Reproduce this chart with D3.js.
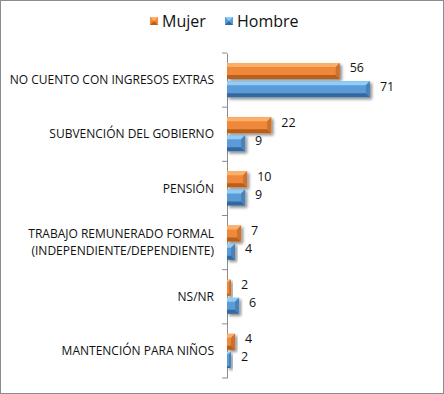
<!DOCTYPE html>
<html>
<head>
<meta charset="utf-8">
<script src="https://cdn.jsdelivr.net/npm/d3@7"></script>
<style>
  body { margin: 0; background: #fff; }
  svg { display: block; font-family: "Open Sans", "DejaVu Sans", sans-serif; }
</style>
</head>
<body>
<script>
"use strict";
const categories = [
    ["NO CUENTO CON INGRESOS EXTRAS"],
    ["SUBVENCIÓN DEL GOBIERNO"],
    ["PENSIÓN"],
    ["TRABAJO REMUNERADO FORMAL", "(INDEPENDIENTE/DEPENDIENTE)"],
    ["NS/NR"],
    ["MANTENCIÓN PARA NIÑOS"]
];
const seriesNames = ["Mujer", "Hombre"];
const mujer = [56, 22, 10, 7, 2, 4];
const hombre = [71, 9, 9, 4, 6, 2];

const colors = {
    Mujer: { base: "#F0883A", light: "#FBB06A", dark: "#B85F1E" },
    Hombre: { base: "#5A9BD8", light: "#92CDF5", dark: "#35689E" }
};

const measurements = { width: 444, height: 394, left: 227, top: 53, bottom: 378 };

const svg = d3.select("body").append("svg")
    .attr("width", measurements.width)
    .attr("height", measurements.height);

// frame
svg.append("rect")
    .attr("x", 0.5).attr("y", 0.5)
    .attr("width", measurements.width - 1).attr("height", measurements.height - 1)
    .attr("fill", "#fff").attr("stroke", "#8c8c8c");

const defs = svg.append("defs");
const shadow = defs.append("filter").attr("id", "shadow")
    .attr("x", "-20%").attr("y", "-40%").attr("width", "150%").attr("height", "200%");
shadow.append("feGaussianBlur").attr("in", "SourceAlpha").attr("stdDeviation", 1.6);
shadow.append("feOffset").attr("dx", 2).attr("dy", 2).attr("result", "ob");
shadow.append("feComponentTransfer").append("feFuncA").attr("type", "linear").attr("slope", 0.45);
const merge = shadow.append("feMerge");
merge.append("feMergeNode");
merge.append("feMergeNode").attr("in", "SourceGraphic");

const scaleY = d3.scaleBand()
    .domain(d3.range(categories.length))
    .range([measurements.top, measurements.bottom]);

const scaleX = d3.scaleLinear()
    .domain([0, 80])
    .range([measurements.left, measurements.left + 161]);

const inner = d3.scaleBand()
    .domain(seriesNames)
    .range([10, scaleY.bandwidth() - 10])
    .paddingInner(0.12);

// axis
const yAxis = d3.axisLeft(scaleY).tickSize(0).tickFormat("");
svg.append("g").attr("transform", `translate(${measurements.left},0)`).call(yAxis)
    .select(".domain").attr("stroke", "#8c8c8c");
svg.append("g").selectAll("line")
    .data(d3.range(categories.length + 1))
    .join("line")
    .attr("x1", measurements.left - 5).attr("x2", measurements.left)
    .attr("y1", i => measurements.top + i * scaleY.step())
    .attr("y2", i => measurements.top + i * scaleY.step())
    .attr("stroke", "#8c8c8c");

// category labels
const catLabels = svg.append("g").selectAll("text")
    .data(categories)
    .join("text")
    .attr("text-anchor", "end")
    .attr("font-size", "12px")
    .attr("fill", "#111");
catLabels.each(function(lines, i) {
    const cy = scaleY(i) + scaleY.bandwidth() / 2;
    const lh = 17;
    d3.select(this).selectAll("tspan")
        .data(lines)
        .join("tspan")
        .attr("x", 214)
        .attr("y", (d, j) => cy + (j - (lines.length - 1) / 2) * lh)
        .attr("dy", "0.35em")
        .text(d => d);
});

function bar(g, x0, x1, y, h, c) {
    const w = x1 - x0;
    const b = Math.min(4, w / 2, h / 2);
    const grp = g.append("g").attr("filter", "url(#shadow)");
    grp.append("rect").attr("x", x0).attr("y", y).attr("width", w).attr("height", h).attr("fill", c.base);
    // top bevel
    grp.append("polygon")
        .attr("points", [[x0, y], [x1, y], [x1 - b, y + b], [x0, y + b]].join(" "))
        .attr("fill", c.light);
    // bottom bevel
    grp.append("polygon")
        .attr("points", [[x0, y + h], [x1, y + h], [x1 - b, y + h - b], [x0, y + h - b]].join(" "))
        .attr("fill", c.dark);
    // right bevel
    grp.append("polygon")
        .attr("points", [[x1, y], [x1, y + h], [x1 - b, y + h - b], [x1 - b, y + b]].join(" "))
        .attr("fill", d3.color(c.base).darker(0.5));
}

const series = [mujer, hombre];
const barLayer = svg.append("g");
series.forEach((vals, s) => {
    const name = seriesNames[s];
    vals.forEach((v, i) => {
        const y = scaleY(i) + inner(name);
        bar(barLayer, scaleX(0), scaleX(v), y, inner.bandwidth(), colors[name]);
        svg.append("text")
            .attr("x", scaleX(v) + 10)
            .attr("y", y + inner.bandwidth() / 2 - 3)
            .attr("dy", "0.35em")
            .attr("font-size", "12.5px")
            .attr("fill", "#111")
            .text(v);
    });
});

// legend
const legend = svg.append("g");
const legendX = [150, 225];
seriesNames.forEach((name, s) => {
    const c = colors[name];
    const x = legendX[s], y = 17;
    legend.append("rect").attr("x", x).attr("y", y).attr("width", 8).attr("height", 8).attr("fill", c.base);
    legend.append("polygon").attr("points", [[x, y], [x + 8, y], [x + 4, y + 4]].join(" ")).attr("fill", c.light);
    legend.append("polygon").attr("points", [[x, y + 8], [x + 8, y + 8], [x + 4, y + 4]].join(" ")).attr("fill", c.dark);
    legend.append("text")
        .attr("x", x + 12).attr("y", y + 4).attr("dy", "0.35em")
        .attr("font-size", "16px").attr("fill", "#111")
        .text(name);
});
</script>
</body>
</html>
